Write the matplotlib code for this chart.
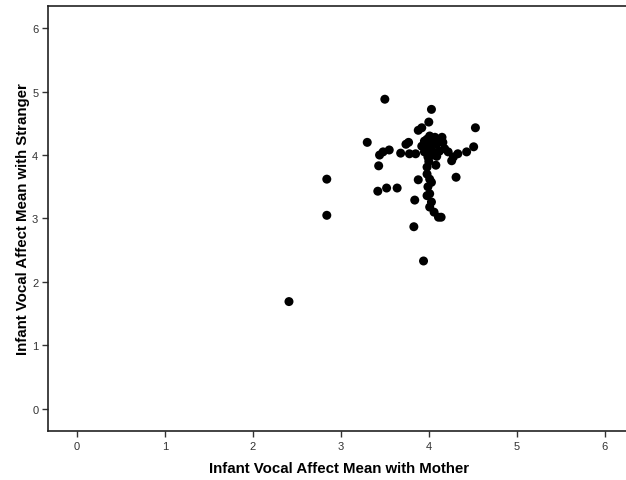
import numpy as np
import matplotlib
matplotlib.use('Agg')
import matplotlib.pyplot as plt

# Infant vocal affect means
mother = [2.41, 2.84, 2.84, 3.94, 3.83, 3.50, 4.03, 4.53, 4.51, 3.30,
          4.31, 4.11, 3.43, 3.42, 3.52, 3.64, 3.88, 3.84, 4.00, 3.88,
          3.92, 3.48, 3.55, 3.44, 3.68, 3.74, 3.77, 3.78, 3.85, 3.92,
          3.98, 4.01, 4.07, 4.15, 4.16, 4.18, 4.22, 4.12, 4.09, 4.05,
          4.01, 3.98, 3.95, 3.99, 4.03, 4.09, 4.26, 4.28, 4.33, 4.43,
          3.98, 4.08, 3.98, 4.01, 4.03, 3.99, 4.01, 3.98, 4.03, 4.01,
          4.06, 4.14, 3.95, 4.04, 4.11, 4.00, 3.97]
stranger = [1.69, 3.62, 3.05, 2.33, 2.87, 4.88, 4.72, 4.43, 4.13, 4.20,
            3.65, 3.02, 3.83, 3.43, 3.48, 3.48, 3.61, 3.29, 4.52, 4.39,
            4.43, 4.05, 4.08, 4.00, 4.03, 4.17, 4.20, 4.02, 4.02, 4.14,
            4.25, 4.30, 4.28, 4.28, 4.20, 4.10, 4.05, 4.06, 3.98, 4.05,
            4.10, 4.13, 4.05, 3.97, 4.17, 4.17, 3.91, 3.97, 4.02, 4.05,
            3.81, 3.84, 3.70, 3.62, 3.57, 3.50, 3.39, 3.36, 3.26, 3.18,
            3.10, 3.02, 4.22, 4.00, 4.22, 3.90, 4.10]
ticks = [0, 1, 2, 3, 4, 5, 6]

plt.rcParams['font.family'] = ['Liberation Sans', 'DejaVu Sans']

fig = plt.figure(figsize=(6.26, 4.81), dpi=100, facecolor='white')
ax = fig.add_axes([0.0767, 0.1019, 0.93, 0.8836])

ax.scatter(mother, stranger, s=42, color='black', edgecolors='none', zorder=3)

ax.set_xlim(-0.33, 6.29)
ax.set_ylim(-0.35, 6.35)
ax.set_xticks(ticks)
ax.set_yticks(ticks)
ax.tick_params(axis='both', direction='out', length=4.5, width=1, color='#333333',
               labelsize=8, labelcolor='#333333', pad=2.5)

ax.spines['right'].set_visible(False)
for s in ax.spines.values():
    s.set_linewidth(1.2)
    s.set_color('#222222')

ax.set_xlabel('Infant Vocal Affect Mean with Mother', fontsize=10.8,
              fontweight='bold', labelpad=7.5)
ax.set_ylabel('Infant Vocal Affect Mean with Stranger', fontsize=10.8,
              fontweight='bold', labelpad=1.5)

fig.savefig('out.png', dpi=100, facecolor='white')
